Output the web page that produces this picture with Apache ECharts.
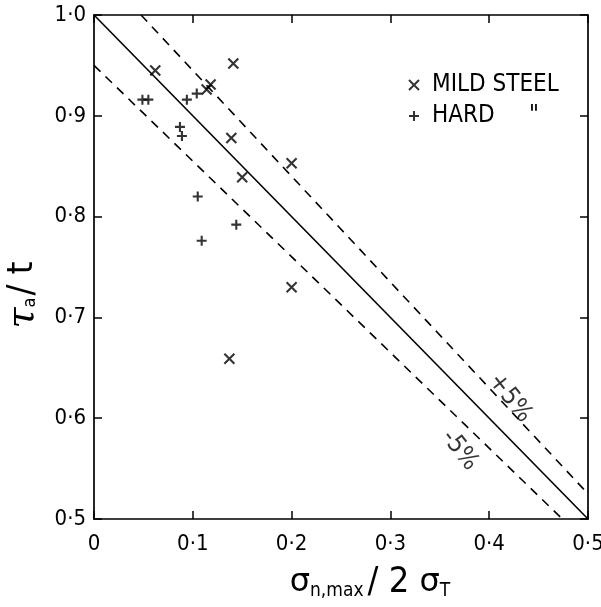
<!DOCTYPE html>
<html>
<head>
<meta charset="utf-8">
<title>tau_a / t</title>
<script src="https://cdn.jsdelivr.net/npm/echarts@6/dist/echarts.min.js"></script>
<style>
    html, body { margin: 0; padding: 0; background: #fff; }
    #chart { width: 601px; height: 607px; }
</style>
</head>
<body>
<div id="chart"></div>
<script>
// 刻度
var xTicks = [0, 0.1, 0.2, 0.3, 0.4, 0.5];
var yTicks = [0.5, 0.6, 0.7, 0.8, 0.9, 1.0];
// MILD STEEL (x)
var mildX = [0.062, 0.141, 0.118, 0.114, 0.139, 0.200, 0.150, 0.200, 0.137];
var mildY = [0.945, 0.952, 0.931, 0.926, 0.878, 0.853, 0.839, 0.730, 0.659];
// HARD (+)
var hardX = [0.104, 0.094, 0.049, 0.055, 0.087, 0.089, 0.105, 0.144, 0.109];
var hardY = [0.922, 0.916, 0.916, 0.916, 0.889, 0.880, 0.820, 0.792, 0.776];
// 直线 和 ±5% 线
var midX = [0, 0.5], midY = [1.0, 0.5];
var upX = [0.0476, 0.5], upY = [1.0, 0.525];
var lowX = [0, 0.474], lowY = [0.95, 0.5];
// 线上的文字
var noteText = ['+5%', '-5%'];
var noteX = [0.421, 0.370];
var noteY = [0.620, 0.568];

function zip(xs, ys) {
    return xs.map(function(x, i) { return [x, ys[i]]; });
}

var ink = '#000';
var font = "'Liberation Sans Narrow', 'DejaVu Sans Condensed', 'Liberation Sans', sans-serif";
var crossPath = 'path://M0,0L10,10M10,0L0,10';
var plusPath = 'path://M5,0L5,10M0,5L10,5';

function fmt(v) {
    if (v === 0) return '0';
    return v.toFixed(1).replace('.', '\u00b7');
}

var myChart = echarts.init(document.getElementById('chart'));

var axisCommon = {
    type: 'value',
    interval: 0.1,
    axisLine: { show: true, onZero: false, lineStyle: { color: ink, width: 1.7 } },
    axisTick: { show: true, inside: true, length: 8, lineStyle: { color: ink, width: 1.5 } },
    splitLine: { show: false }
};

var option = {
    backgroundColor: '#fff',
    animation: false,
    grid: { left: 94, right: 13, top: 15, bottom: 88, outerBoundsMode: 'none' },
    legend: {
        orient: 'vertical',
        left: 403,
        top: 68,
        itemWidth: 10,
        itemHeight: 10,
        itemGap: 7,
        textStyle: { fontFamily: font, fontSize: 24, color: ink, padding: [0, 0, 0, 8] },
        data: [
            { name: 'MILD STEEL', icon: crossPath },
            { name: 'HARD     "', icon: plusPath }
        ]
    },
    xAxis: [
        Object.assign({}, axisCommon, {
            min: xTicks[0], max: xTicks[xTicks.length - 1],
            position: 'bottom',
            axisLabel: { margin: 14, formatter: fmt, fontFamily: font, fontSize: 22, color: ink },
            name: '{s|\u03c3}{sub|n,max}{n|/ 2 }{s|\u03c3}{sub|T}',
            nameLocation: 'middle',
            nameGap: 46,
            nameTextStyle: {
                padding: [0, 0, 0, 62],
                rich: {
                    s: { fontFamily: "'DejaVu Sans'", fontSize: 32, color: ink },
                    sub: { fontFamily: font, fontSize: 19, color: ink, padding: [16, 4, 0, 0] },
                    n: { fontFamily: font, fontSize: 36, color: ink }
                }
            }
        }),
        Object.assign({}, axisCommon, {
            min: xTicks[0], max: xTicks[xTicks.length - 1],
            position: 'top',
            axisLabel: { show: false }
        })
    ],
    yAxis: [
        Object.assign({}, axisCommon, {
            min: yTicks[0], max: yTicks[yTicks.length - 1],
            position: 'left',
            axisLabel: { margin: 8, formatter: fmt, fontFamily: font, fontSize: 22, color: ink },
            name: '{s|\u03c4}{sub|a}{n|/ t}',
            nameLocation: 'middle',
            nameRotate: 90,
            nameGap: 52,
            nameTextStyle: {
                padding: [0, 56, 0, 0],
                rich: {
                    s: { fontFamily: "'DejaVu Serif'", fontStyle: 'italic', fontSize: 38, color: ink },
                    sub: { fontFamily: font, fontSize: 18, color: ink, padding: [14, 2, 0, 0] },
                    n: { fontFamily: font, fontSize: 36, color: ink }
                }
            }
        }),
        Object.assign({}, axisCommon, {
            min: yTicks[0], max: yTicks[yTicks.length - 1],
            position: 'right',
            axisLabel: { show: false }
        })
    ],
    series: [
        {
            name: 'mid',
            type: 'line',
            data: zip(midX, midY),
            symbol: 'none',
            lineStyle: { color: ink, width: 1.6 },
            silent: true
        },
        {
            name: 'up',
            type: 'line',
            data: zip(upX, upY),
            symbol: 'none',
            lineStyle: { color: ink, width: 1.6, type: [9, 7] },
            silent: true
        },
        {
            name: 'low',
            type: 'line',
            data: zip(lowX, lowY),
            symbol: 'none',
            lineStyle: { color: ink, width: 1.6, type: [9, 7] },
            silent: true
        },
        {
            name: 'MILD STEEL',
            type: 'scatter',
            data: zip(mildX, mildY),
            symbol: crossPath,
            symbolSize: 10,
            itemStyle: { color: 'rgba(0,0,0,0)', borderColor: ink, borderWidth: 2.1 }
        },
        {
            name: 'HARD     "',
            type: 'scatter',
            data: zip(hardX, hardY),
            symbol: plusPath,
            symbolSize: 10,
            itemStyle: { color: 'rgba(0,0,0,0)', borderColor: ink, borderWidth: 2.1 }
        },
        {
            // ±5% 文字
            name: 'notes',
            type: 'scatter',
            data: noteX.map(function(x, i) { return [x, noteY[i], noteText[i]]; }),
            symbolSize: 0,
            silent: true,
            label: {
                show: true,
                position: 'inside',
                rotate: -52,
                formatter: function(p) { return p.data[2]; },
                fontFamily: font,
                fontSize: 25,
                color: ink,
                backgroundColor: '#fff',
                padding: [0, 1]
            }
        }
    ]
};

myChart.setOption(option);
</script>
</body>
</html>
